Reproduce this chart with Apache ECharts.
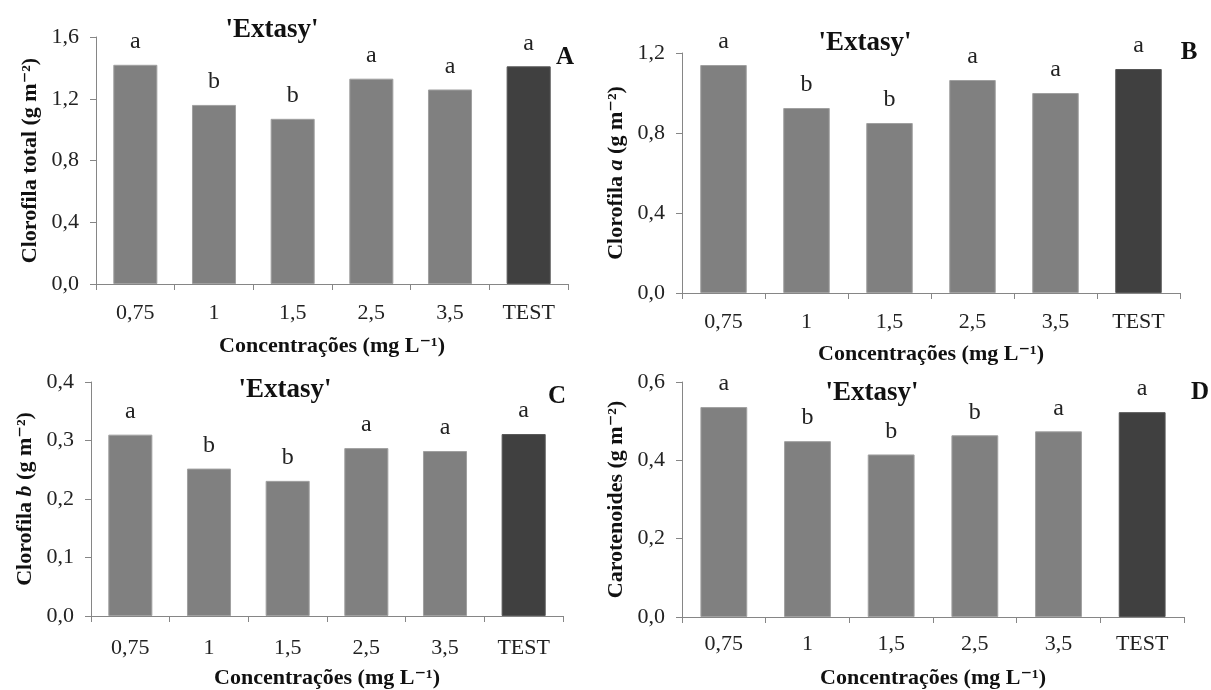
<!DOCTYPE html>
<html>
<head>
<meta charset="utf-8">
<script src="https://cdn.jsdelivr.net/npm/echarts@6/dist/echarts.min.js"></script>
<style>
html,body{margin:0;padding:0;background:#fff;}
#chart{width:1211px;height:690px;}
</style>
</head>
<body>
<div id="chart"></div>
<script>
// ---- data ----
const categories = ['0,75', '1', '1,5', '2,5', '3,5', 'TEST'];
const clorofilaTotal = [1.42, 1.16, 1.07, 1.33, 1.26, 1.41];
const clorofilaA = [1.14, 0.925, 0.85, 1.065, 1.0, 1.12];
const clorofilaB = [0.31, 0.252, 0.231, 0.287, 0.282, 0.311];
const carotenoides = [0.536, 0.449, 0.415, 0.464, 0.474, 0.523];
const lettersTotal = ['a', 'b', 'b', 'a', 'a', 'a'];
const lettersA = ['a', 'b', 'b', 'a', 'a', 'a'];
const lettersB = ['a', 'b', 'b', 'a', 'a', 'a'];
const lettersCarot = ['a', 'b', 'b', 'b', 'a', 'a'];
const yMax = [1.6, 1.2, 0.4, 0.6];
const yInterval = [0.4, 0.4, 0.1, 0.2];
const panelLetters = ['A', 'B', 'C', 'D'];
const cultivar = "'Extasy'";
const xTitle = 'Concentrações (mg L⁻¹)';

const SERIF = "'Liberation Serif','Times New Roman','DejaVu Serif',serif";
const chart = echarts.init(document.getElementById('chart'), null, {renderer: 'canvas'});

const panels = [
  {values: clorofilaTotal, letters: lettersTotal, grid: {left: 96, top: 37, width: 472, height: 247},
   yName: '{n|Clorofila total (g m⁻²)}', xLabelMargin: 18, xNameGap: 51,
   title: [272, 30], letter: [565, 58]},
  {values: clorofilaA, letters: lettersA, grid: {left: 682, top: 53, width: 498, height: 240},
   yName: '{n|Clorofila }{i|a}{n| (g m⁻²)}', xLabelMargin: 18, xNameGap: 50,
   title: [865, 43], letter: [1189, 53]},
  {values: clorofilaB, letters: lettersB, grid: {left: 91, top: 382, width: 472, height: 236},
   yName: '{n|Clorofila }{i|b}{n| (g m⁻²)}', xLabelMargin: 21, xNameGap: 51,
   title: [285, 390], letter: [557, 397]},
  {values: carotenoides, letters: lettersCarot, grid: {left: 682, top: 382, width: 502, height: 235},
   yName: '{n|Carotenoides (g m⁻²)}', xLabelMargin: 16, xNameGap: 50,
   title: [872, 393], letter: [1200, 393]}
];

const grids = [], xAxes = [], yAxes = [], series = [], graphics = [];
panels.forEach((p, i) => {
  grids.push(Object.assign({containLabel: false}, p.grid));
  xAxes.push({
    type: 'category', gridIndex: i, data: categories,
    axisLine: {lineStyle: {color: '#868686', width: 1}},
    axisTick: {show: true, length: 6, lineStyle: {color: '#868686'}},
    axisLabel: {color: '#222', fontFamily: SERIF, fontSize: 22, margin: p.xLabelMargin},
    name: xTitle, nameLocation: 'middle', nameGap: p.xNameGap,
    nameTextStyle: {color: '#111', fontFamily: SERIF, fontSize: 22, fontWeight: 'bold'}
  });
  yAxes.push({
    type: 'value', gridIndex: i, min: 0, max: yMax[i], interval: yInterval[i],
    axisLine: {show: true, lineStyle: {color: '#868686', width: 1}},
    axisTick: {show: true, length: 6, lineStyle: {color: '#868686'}},
    splitLine: {show: false},
    axisLabel: {color: '#222', fontFamily: SERIF, fontSize: 22, margin: 17,
      formatter: v => v.toFixed(1).replace('.', ',')},
    name: p.yName, nameLocation: 'middle', nameRotate: 90, nameGap: 55,
    nameTextStyle: {
      color: '#111', fontFamily: SERIF, fontSize: 22, fontWeight: 'bold',
      rich: {
        n: {color: '#111', fontFamily: SERIF, fontSize: 22, fontWeight: 'bold'},
        i: {color: '#111', fontFamily: SERIF, fontSize: 22, fontWeight: 'bold', fontStyle: 'italic'}
      }
    }
  });
  series.push({
    type: 'bar', xAxisIndex: i, yAxisIndex: i, barCategoryGap: '44%',
    data: p.values.map((v, k) => ({
      value: v,
      itemStyle: k === categories.length - 1
        ? {color: '#404040', borderColor: '#555', borderWidth: 1}
        : {color: '#808080', borderColor: '#a0a0a0', borderWidth: 1}
    })),
    label: {show: true, position: 'top', distance: 11, color: '#222',
      fontFamily: SERIF, fontSize: 24,
      formatter: params => p.letters[params.dataIndex]},
    animation: false
  });
  graphics.push({
    type: 'text', x: p.title[0], y: p.title[1],
    style: {text: cultivar, font: "bold 27px " + SERIF, fill: '#111',
      textAlign: 'center', textVerticalAlign: 'middle'}
  });
  graphics.push({
    type: 'text', x: p.letter[0], y: p.letter[1],
    style: {text: panelLetters[i], font: "bold 25px " + SERIF, fill: '#111',
      textAlign: 'center', textVerticalAlign: 'middle'}
  });
});

chart.setOption({
  animation: false,
  backgroundColor: '#fff',
  grid: grids, xAxis: xAxes, yAxis: yAxes, series: series,
  graphic: graphics
});
</script>
</body>
</html>
